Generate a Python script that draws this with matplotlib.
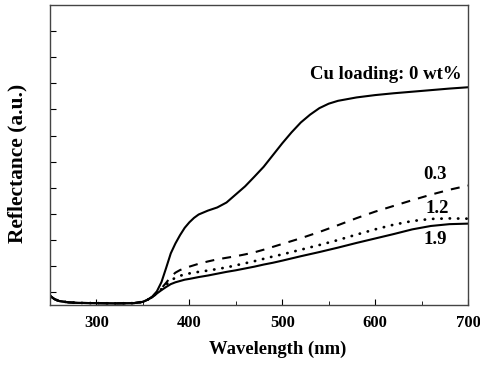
import numpy as np
import matplotlib.pyplot as plt

# --- data (arbitrary units) ---
wl_main = [250, 255, 260, 270, 280, 300, 320, 340, 350, 355, 360, 365, 370, 375,
           380, 385, 390, 395, 400, 405, 410, 420, 430, 440, 450, 460, 470, 480,
           490, 500, 510, 520, 530, 540, 550, 560, 580, 600, 620, 640, 660, 680, 700]
cu_0 = [0.35, 0.22, 0.15, 0.10, 0.08, 0.07, 0.06, 0.07, 0.12, 0.20, 0.32, 0.52,
        0.88, 1.42, 1.98, 2.36, 2.68, 2.96, 3.17, 3.34, 3.47, 3.62, 3.74, 3.93,
        4.24, 4.55, 4.92, 5.30, 5.75, 6.20, 6.62, 7.00, 7.30, 7.55, 7.72, 7.83,
        7.96, 8.05, 8.12, 8.18, 8.24, 8.30, 8.35]

wavelength = [250, 255, 260, 270, 280, 300, 320, 340, 350, 355, 360, 365, 370, 375,
              380, 385, 390, 395, 400, 410, 420, 430, 440, 450, 460, 470, 480, 490,
              500, 520, 540, 560, 580, 600, 620, 640, 660, 680, 700]
base = [0.35, 0.22, 0.15, 0.10, 0.08, 0.07, 0.06, 0.07, 0.12, 0.20]

cu_03 = base + [0.30, 0.46, 0.64, 0.85, 1.08, 1.24, 1.34, 1.41, 1.47, 1.58, 1.67,
                1.75, 1.81, 1.87, 1.94, 2.02, 2.12, 2.23, 2.34, 2.56, 2.80, 3.06,
                3.33, 3.58, 3.80, 4.02, 4.23, 4.42, 4.58]
cu_12 = base + [0.30, 0.45, 0.61, 0.78, 0.93, 1.05, 1.12, 1.17, 1.21, 1.27, 1.32,
                1.38, 1.44, 1.52, 1.60, 1.68, 1.77, 1.86, 1.94, 2.12, 2.30, 2.49,
                2.70, 2.90, 3.08, 3.22, 3.30, 3.32, 3.31]
cu_19 = base + [0.30, 0.44, 0.57, 0.69, 0.80, 0.87, 0.92, 0.97, 1.00, 1.07, 1.13,
                1.20, 1.27, 1.33, 1.40, 1.47, 1.55, 1.62, 1.70, 1.87, 2.03, 2.20,
                2.38, 2.55, 2.72, 2.90, 3.03, 3.10, 3.12]

labels = ["Cu loading: 0 wt%", "0.3", "1.2", "1.9"]
label_pos = [(693, 8.85, "right"), (664, 5.0, "center"), (667, 3.69, "center"), (665, 2.5, "center")]

# --- plot ---
plt.rcParams['font.family'] = ['Liberation Serif', 'DejaVu Serif']
plt.rcParams['font.weight'] = 'bold'

fig = plt.figure(figsize=(4.81, 3.67), dpi=100)
ax = fig.add_axes([0.104, 0.169, 0.869, 0.817])

ax.plot(wl_main, cu_0, color='black', lw=1.5)
ax.plot(wavelength, cu_03, color='black', lw=1.5, dashes=(4.3, 3.9))
ax.plot(wavelength, cu_12, color='black', lw=2.0, linestyle=(0, (0.1, 2.9)), dash_capstyle='round')
ax.plot(wavelength, cu_19, color='black', lw=1.5)

for text, (x, y, ha) in zip(labels, label_pos):
    ax.text(x, y, text, ha=ha, va='center', fontsize=13.5, fontweight='bold')

ax.set_xlim(250, 700)
ax.set_ylim(0, 11.5)
ax.set_xticks([300, 400, 500, 600, 700])
ax.set_xticks(np.arange(250, 701, 50), minor=True)
ax.set_yticks(np.arange(0.5, 11.5, 1))
ax.set_yticklabels([])
ax.tick_params(axis='x', which='both', direction='in', top=False, labelsize=12, pad=7)
ax.tick_params(axis='x', which='major', length=4)
ax.tick_params(axis='x', which='minor', length=3)
ax.tick_params(axis='y', direction='in', length=4, right=False)
for s in ax.spines.values():
    s.set_color('#444444')
    s.set_linewidth(1.0)

ax.set_xlabel("Wavelength (nm)", fontsize=13.4, fontweight='bold')
ax.set_ylabel("Reflectance (a.u.)", fontsize=15.4, fontweight='bold')
ax.xaxis.set_label_coords(0.544, -0.12)
ax.yaxis.set_label_coords(-0.055, 0.473)

fig.savefig("out.png", dpi=100)
